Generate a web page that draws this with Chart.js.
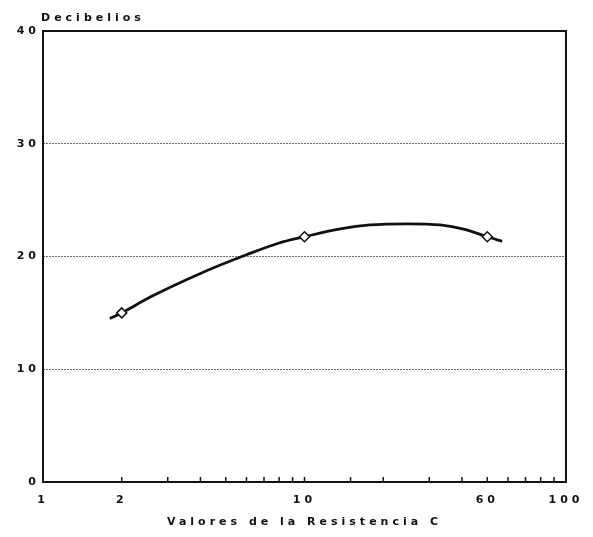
<!DOCTYPE html>
<html lang="es">
<head>
<meta charset="UTF-8">
<title>Decibelios</title>
<script src="https://cdn.jsdelivr.net/npm/chart.js"></script>
<style>
  html, body { margin: 0; padding: 0; background: #fff; }
</style>
</head>
<body>
<canvas id="chart" width="593" height="537"></canvas>
<script>
// curve
const curveX = [1.8, 2, 2.57, 4, 6, 8, 10, 13.7, 17.8, 24.7, 33, 41, 50, 57];
const curveY = [14.5, 15.0, 16.4, 18.5, 20.15, 21.2, 21.75, 22.45, 22.8, 22.9, 22.8, 22.4, 21.75, 21.35];
// measured points (diamonds)
const pointX = [2, 10, 50];
const pointY = [15.0, 21.75, 21.75];
// x tick labels as printed on the axis
const xTickValues = [1, 2, 10, 50, 100];
const xTickLabels = ['1', '2', '10', '60', '100'];
const yTickValues = [0, 10, 20, 30, 40];

const FAMILY = '"DejaVu Sans", "Liberation Sans", Arial, sans-serif';
const FONT = { family: FAMILY, size: 11, weight: 'bold' };

const toXY = (xs, ys) => xs.map((x, i) => ({ x: x, y: ys[i] }));

// spaced-out lettering like the typewriter labels
const spacing = {
  id: 'spacing',
  beforeDraw(chart) { chart.ctx.letterSpacing = '4px'; }
};

// frame, inner minor ticks and the "Decibelios" heading
const frame = {
  id: 'frame',
  afterDraw(chart) {
    const { ctx, chartArea: a, scales } = chart;
    ctx.save();
    ctx.strokeStyle = '#111';
    ctx.lineWidth = 1.5;
    scales.x.ticks.forEach(t => {
      if (t.value <= 1 || t.value >= 100) return;
      const px = scales.x.getPixelForValue(t.value);
      ctx.beginPath();
      ctx.moveTo(px, a.bottom);
      ctx.lineTo(px, a.bottom - 5);
      ctx.stroke();
    });
    ctx.lineWidth = 2;
    ctx.strokeRect(a.left, a.top, a.right - a.left, a.bottom - a.top);
    ctx.fillStyle = '#111';
    ctx.font = 'bold 11px ' + FAMILY;
    ctx.letterSpacing = '4px';
    ctx.textBaseline = 'middle';
    ctx.textAlign = 'left';
    ctx.fillText('Decibelios', a.left - 2, 18);
    ctx.restore();
  }
};

new Chart(document.getElementById('chart'), {
  type: 'line',
  data: {
    datasets: [
      {
        label: 'puntos',
        data: toXY(pointX, pointY),
        showLine: false,
        pointStyle: 'rectRot',
        pointRadius: 5,
        pointBorderWidth: 1.5,
        pointBorderColor: '#111',
        pointBackgroundColor: '#fff'
      },
      {
        label: 'curva',
        data: toXY(curveX, curveY),
        borderColor: '#111',
        borderWidth: 2.8,
        pointRadius: 0,
        cubicInterpolationMode: 'monotone',
        fill: false
      }
    ]
  },
  options: {
    responsive: false,
    animation: false,
    layout: { padding: { top: 31, right: 27, left: 0, bottom: 0 } },
    plugins: { legend: { display: false }, tooltip: { enabled: false } },
    scales: {
      x: {
        type: 'logarithmic',
        min: 1,
        max: 100,
        afterFit: s => { s.height = 55; },
        grid: { drawOnChartArea: false, drawTicks: false },
        border: { display: false },
        ticks: {
          autoSkip: false,
          maxRotation: 0,
          padding: 12,
          color: '#111',
          font: FONT,
          callback: v => {
            const i = xTickValues.indexOf(v);
            return i >= 0 ? xTickLabels[i] : '';
          }
        },
        title: {
          display: true,
          text: 'Valores de la Resistencia C',
          color: '#111',
          font: FONT,
          padding: { top: 0, bottom: 8 }
        }
      },
      y: {
        min: 0,
        max: 40,
        afterFit: s => { s.width = 43; },
        afterBuildTicks: s => { s.ticks = yTickValues.map(v => ({ value: v })); },
        grid: {
          drawTicks: false,
          color: '#666',
          lineWidth: 1
        },
        border: { display: false, dash: [2, 1] },
        ticks: { padding: 3, color: '#111', font: FONT }
      }
    }
  },
  plugins: [spacing, frame]
});
</script>
</body>
</html>
